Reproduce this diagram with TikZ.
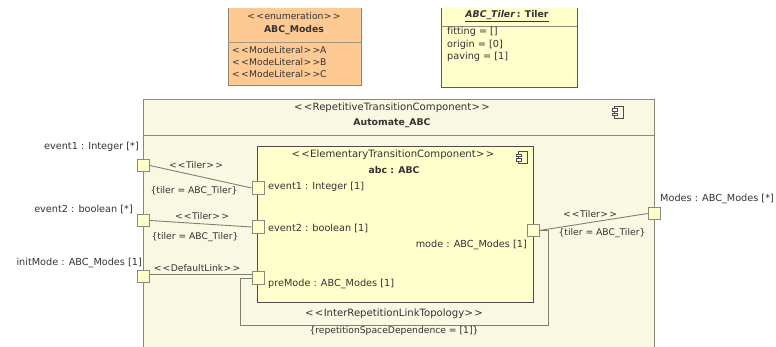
\documentclass[tikz,border=0pt]{standalone}
\usepackage{fontspec}
\setmainfont[Ligatures=NoCommon]{DejaVu Sans}
\definecolor{outerfill}{HTML}{F8F8E3}
\definecolor{innerfill}{HTML}{FFFFCC}
\definecolor{orangefill}{HTML}{FFC994}
\definecolor{frame}{HTML}{8A8A7A}
\definecolor{wire}{HTML}{7F7F72}
\definecolor{txt}{HTML}{333333}
\newcommand{\stl}{{<}\kern1.2pt{<}\kern0.4pt}
\newcommand{\str}{\kern0.4pt{>}\kern1.2pt{>}}
\tikzset{
  portbox/.style={draw=frame,fill=innerfill,line width=0.8pt,minimum width=12pt,minimum height=12.5pt,inner sep=0pt},
  lbl/.style={font=\fontsize{9.7}{11}\selectfont,text=txt,inner sep=0pt},
  lblc/.style={lbl,font=\fontsize{9.2}{11}\selectfont},
  lbls/.style={lbl,font=\fontsize{10.1}{12}\selectfont},
  lblb/.style={lbl,font=\fontsize{9.3}{11}\selectfont\bfseries},
  wireline/.style={draw=wire,line width=0.9pt},
  compicon/.pic={
    \draw[black!70,line width=0.6pt] (-3.5,-6) rectangle (5,6);
    \draw[black!70,fill=white,line width=0.6pt] (-6,-3.5) rectangle (-1,-1);
    \draw[black!70,fill=white,line width=0.6pt] (-6,1) rectangle (-1,3.5);
  }
}
\begin{document}
\begin{tikzpicture}[x=1pt,y=-1pt]
\useasboundingbox (0,0) rectangle (776,347);
% top boxes
\fill[orangefill] (228,8) rectangle (361,85);
\draw[frame,line width=0.8pt] (228,8) -- (228,85) -- (361,85) -- (361,8);
\draw[frame!80!orangefill,line width=0.9pt] (228,42) -- (361,42);
\node[lblc] (en1) at (294,16) {\stl enumeration\str};
\node[lblb] (en2) at (294,30) {ABC\_Modes};
\node[lblc,anchor=west] (l1) at (232,50) {\stl ModeLiteral\str A};
\node[lblc,anchor=west] (l2) at (232,62) {\stl ModeLiteral\str B};
\node[lblc,anchor=west] (l3) at (232,74) {\stl ModeLiteral\str C};
\fill[innerfill] (441,8) rectangle (577,87);
\draw[black!65,line width=0.8pt] (441,8) -- (441,87) -- (577,87) -- (577,8);
\draw[frame,line width=0.9pt] (441,26) -- (577,26);
\node[lblb] (ti) at (507,16) {\underline{\textit{ABC\_Tiler}\,: Tiler}};
\node[lbl,anchor=west] (t1) at (447,32) {fitting = []};
\node[lbl,anchor=west] (t2) at (447,45) {origin = [0]};
\node[lbl,anchor=west] (t3) at (447,57) {paving = [1]};
% outer component
\fill[outerfill] (143,99) rectangle (654,347);
\draw[frame,line width=0.9pt] (143,347) -- (143,99) -- (654,99) -- (654,347);
\draw[frame,line width=0.9pt] (143,135) -- (654,135);
\node[lbls] (o1) at (392,108) {\stl RepetitiveTransitionComponent\str};
\node[lblb] (o2) at (392,123) {Automate\_ABC};
\pic at (618,112) {compicon};
% inner component
\node[draw=black!70,fill=innerfill,line width=0.8pt,minimum width=276pt,minimum height=156pt,inner sep=0pt,anchor=north west] (abc) at (257,146) {};
\node[lbls] (i1) at (393,155) {\stl ElementaryTransitionComponent\str};
\node[lblb] (i2) at (394,170) {abc : ABC};
\pic at (522,157.5) {compicon};
% ports
\node[portbox] (pe1) at (143.5,165.5) {};
\node[portbox] (pe2) at (143.5,220.5) {};
\node[portbox] (pin) at (143.5,276.5) {};
\node[portbox] (ie1) at (258,188) {};
\node[portbox] (ie2) at (258,227) {};
\node[portbox] (ipm) at (258,278) {};
\node[portbox] (imo) at (533,230.5) {};
\node[portbox] (pmo) at (654,213.5) {};
\coordinate (lb) at (240,325);
\coordinate (rb) at (548,325);
% connectors
\draw[wireline] (pe1.east) -- (ie1.west);
\draw[wireline] (pe2.east) -- (ie2.west);
\draw[wireline] ([yshift=2.5pt]pin.east) -- ([yshift=4pt]ipm.west);
\draw[wireline] (imo.east) -- (pmo.west);
\draw[wireline] (ipm.west) -- (lb |- ipm.west) -- (lb) -- (rb) -- (rb |- imo.east) -- (imo.east);
% port labels
\node[lbl,anchor=east] (n1) at (139,147) {event1 : Integer [*]};
\node[lbl,anchor=east] (n2) at (133,209) {event2 : boolean [*]};
\node[lbl,anchor=east] (n3) at (142,263) {initMode : ABC\_Modes [1]};
\node[lbl,anchor=west] (n4) at (268,187) {event1 : Integer [1]};
\node[lbl,anchor=west] (n5) at (268,228) {event2 : boolean [1]};
\node[lbl,anchor=west] (n6) at (268,284) {preMode : ABC\_Modes [1]};
\node[lbl,anchor=east] (n7) at (527,245) {mode : ABC\_Modes [1]};
\node[lbl,anchor=west] (n8) at (660,199) {Modes : ABC\_Modes [*]};
% connector labels
\node[lblc] (c1) at (196,165) {\stl Tiler\str};
\node[lblc] (c2) at (194,191) {\{tiler = ABC\_Tiler\}};
\node[lblc] (c3) at (202,216) {\stl Tiler\str};
\node[lblc] (c4) at (195,237) {\{tiler = ABC\_Tiler\}};
\node[lblc] (c5) at (197,268) {\stl DefaultLink\str};
\node[lblc] (c6) at (590,214) {\stl Tiler\str};
\node[lblc] (c7) at (602,233) {\{tiler = ABC\_Tiler\}};
\node[lbls] (c8) at (394,314) {\stl InterRepetitionLinkTopology\str};
\node[lblc] (c9) at (394,331) {\{repetitionSpaceDependence = [1]\}};
\end{tikzpicture}
\end{document}
